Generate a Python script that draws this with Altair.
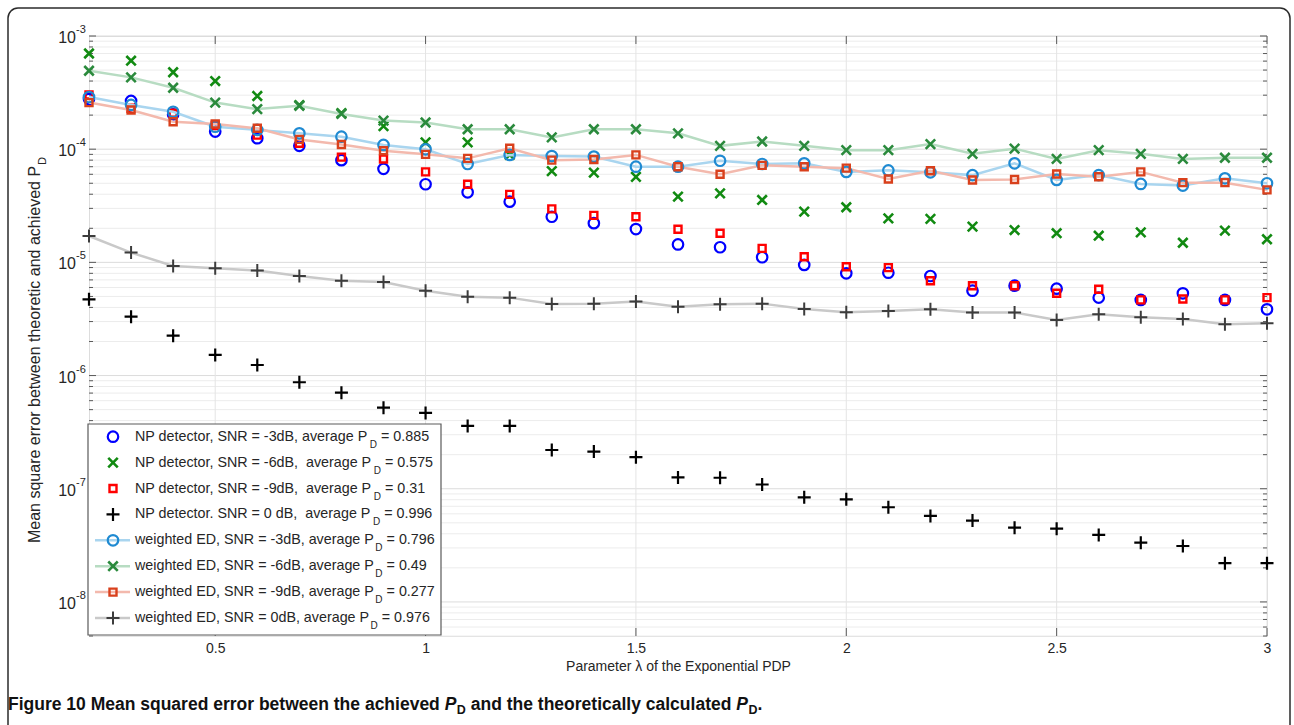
import altair as alt
import pandas as pd

# Parameter lambda of the exponential PDP
lam = [0.2, 0.3, 0.4, 0.5, 0.6, 0.7, 0.8, 0.9, 1.0, 1.1, 1.2, 1.3, 1.4, 1.5,
       1.6, 1.7, 1.8, 1.9, 2.0, 2.1, 2.2, 2.3, 2.4, 2.5, 2.6, 2.7, 2.8, 2.9, 3.0]

# NP detector results
np_m3 = [2.77e-4, 2.67e-4, 2.03e-4, 1.43e-4, 1.25e-4, 1.07e-4, 8.0e-5, 6.7e-5, 4.9e-5, 4.16e-5,
         3.44e-5, 2.53e-5, 2.22e-5, 1.97e-5, 1.44e-5, 1.36e-5, 1.11e-5, 9.5e-6, 8.0e-6, 8.1e-6,
         7.58e-6, 5.62e-6, 6.22e-6, 5.86e-6, 4.88e-6, 4.66e-6, 5.33e-6, 4.66e-6, 3.85e-6]
np_m6 = [7.0e-4, 6.05e-4, 4.78e-4, 4.0e-4, 2.95e-4, 2.45e-4, 2.08e-4, 1.60e-4, 1.15e-4, 1.15e-4,
         8.9e-5, 6.4e-5, 6.2e-5, 5.7e-5, 3.81e-5, 4.07e-5, 3.56e-5, 2.81e-5, 3.07e-5, 2.45e-5,
         2.42e-5, 2.07e-5, 1.93e-5, 1.81e-5, 1.72e-5, 1.84e-5, 1.49e-5, 1.91e-5, 1.60e-5]
np_m9 = [3.01e-4, 2.3e-4, 2.08e-4, 1.62e-4, 1.33e-4, 1.13e-4, 8.5e-5, 8.2e-5, 6.3e-5, 4.9e-5,
         3.99e-5, 2.97e-5, 2.6e-5, 2.53e-5, 1.96e-5, 1.81e-5, 1.33e-5, 1.12e-5, 9.16e-6, 8.98e-6,
         6.89e-6, 6.22e-6, 6.22e-6, 5.33e-6, 5.78e-6, 4.66e-6, 4.75e-6, 4.66e-6, 4.88e-6]
np_0 = [4.72e-6, 3.31e-6, 2.25e-6, 1.52e-6, 1.24e-6, 8.73e-7, 7.06e-7, 5.2e-7, 4.68e-7, 3.59e-7,
        3.59e-7, 2.2e-7, 2.13e-7, 1.9e-7, 1.26e-7, 1.25e-7, 1.09e-7, 8.4e-8, 8.07e-8, 6.86e-8,
        5.75e-8, 5.23e-8, 4.53e-8, 4.44e-8, 3.91e-8, 3.34e-8, 3.12e-8, 2.2e-8, 2.2e-8]

# weighted ED results
ed_m3 = [2.89e-4, 2.46e-4, 2.14e-4, 1.58e-4, 1.48e-4, 1.38e-4, 1.29e-4, 1.09e-4, 9.97e-5, 7.4e-5,
         8.9e-5, 8.7e-5, 8.6e-5, 7.0e-5, 7.0e-5, 7.9e-5, 7.4e-5, 7.5e-5, 6.3e-5, 6.5e-5,
         6.25e-5, 5.9e-5, 7.5e-5, 5.35e-5, 5.9e-5, 4.93e-5, 4.77e-5, 5.53e-5, 5.0e-5]
ed_m6 = [4.93e-4, 4.31e-4, 3.49e-4, 2.58e-4, 2.26e-4, 2.42e-4, 2.05e-4, 1.79e-4, 1.72e-4, 1.50e-4,
         1.50e-4, 1.27e-4, 1.50e-4, 1.50e-4, 1.38e-4, 1.07e-4, 1.17e-4, 1.07e-4, 9.8e-5, 9.8e-5,
         1.11e-4, 9.1e-5, 1.01e-4, 8.2e-5, 9.8e-5, 9.1e-5, 8.2e-5, 8.4e-5, 8.4e-5]
ed_m9 = [2.58e-4, 2.22e-4, 1.75e-4, 1.67e-4, 1.53e-4, 1.22e-4, 1.10e-4, 9.7e-5, 9.0e-5, 8.3e-5,
         1.02e-4, 8.0e-5, 8.1e-5, 8.9e-5, 7.0e-5, 6.0e-5, 7.2e-5, 7.0e-5, 6.8e-5, 5.45e-5,
         6.45e-5, 5.35e-5, 5.4e-5, 6.04e-5, 5.7e-5, 6.3e-5, 5.06e-5, 5.06e-5, 4.37e-5]
ed_0 = [1.71e-5, 1.22e-5, 9.3e-6, 8.87e-6, 8.46e-6, 7.58e-6, 6.89e-6, 6.71e-6, 5.62e-6, 4.98e-6,
        4.88e-6, 4.29e-6, 4.32e-6, 4.5e-6, 4.06e-6, 4.27e-6, 4.32e-6, 3.87e-6, 3.62e-6, 3.72e-6,
        3.85e-6, 3.6e-6, 3.6e-6, 3.1e-6, 3.48e-6, 3.27e-6, 3.16e-6, 2.84e-6, 2.9e-6]

series_keys = ["np_m3", "np_m6", "np_m9", "np_0", "ed_m3", "ed_m6", "ed_m9", "ed_0"]
series_vals = [np_m3, np_m6, np_m9, np_0, ed_m3, ed_m6, ed_m9, ed_0]
legend_text = [
    "NP detector, SNR = -3dB, average P",
    "NP detector, SNR = -6dB,  average P",
    "NP detector, SNR = -9dB,  average P",
    "NP detector. SNR = 0 dB,  average P",
    "weighted ED, SNR = -3dB, average P",
    "weighted ED, SNR = -6dB, average P",
    "weighted ED, SNR = -9dB, average P",
    "weighted ED, SNR = 0dB, average P",
]
avg_pd = ["0.885", "0.575", "0.31", "0.996", "0.796", "0.49", "0.277", "0.976"]

x_ticks = [0.5, 1.0, 1.5, 2.0, 2.5, 3.0]
decades = [1e-3, 1e-4, 1e-5, 1e-6, 1e-7, 1e-8]
decade_exp = ["-3", "-4", "-5", "-6", "-7", "-8"]

# ---- styling -------------------------------------------------------------
PLUS = "M-1,0L1,0M0,-1L0,1"
CROSS = "M-1,-1L1,1M-1,1L1,-1"
marker_color = ["#0000ff", "#118a11", "#ff0000", "#000000",
                "#1f8ad2", "#2a8a3c", "#d9401c", "#3c3c3c"]
marker_shape = ["circle", CROSS, "square", PLUS, "circle", CROSS, "square", PLUS]
marker_size = [110, 90, 49, 169, 110, 90, 49, 169]
marker_stroke = [2.2, 2.6, 2.4, 2.2, 2.2, 2.6, 2.4, 2.0]
ed_keys = series_keys[4:]
line_color = ["#a9d5ef", "#b7dcc2", "#f3b9ad", "#c9c9c9"]
FONT = "Liberation Sans, Arial, Helvetica, sans-serif"
TXT = "#262626"
NB = "\u00a0"

W, H = 1178, 600

rows = []
for k, vals in zip(series_keys, series_vals):
    for xv, yv in zip(lam, vals):
        rows.append({"lam": xv, "mse": yv, "series": k})
df = pd.DataFrame(rows)

xs = alt.Scale(domain=[0.2, 3.0], nice=False, zero=False)
ys = alt.Scale(type="log", domain=[5e-9, 1e-3], nice=False)
x_axis = alt.Axis(values=x_ticks, format="~g", grid=False, ticks=False, domain=False,
                  labelFont=FONT, labelFontSize=14, labelColor=TXT, labelPadding=5,
                  labelFlush=False, title="Parameter λ of the Exponential PDP",
                  titleFont=FONT, titleFontSize=14, titleFontWeight="normal",
                  titleColor=TXT, titlePadding=4)


def X(field):
    return alt.X(field, type="quantitative", scale=xs, axis=x_axis)


def Y(field):
    return alt.Y(field, type="quantitative", scale=ys, axis=None)


color_enc = alt.Color("series:N", scale=alt.Scale(domain=series_keys, range=marker_color), legend=None)
shape_enc = alt.Shape("series:N", scale=alt.Scale(domain=series_keys, range=marker_shape), legend=None)
size_enc = alt.Size("series:N", scale=alt.Scale(type="ordinal", domain=series_keys, range=marker_size),
                    legend=None)
sw_enc = alt.StrokeWidth("series:N", scale=alt.Scale(type="ordinal", domain=series_keys,
                                                     range=marker_stroke), legend=None)
stroke_enc = alt.Stroke("series:N", scale=alt.Scale(domain=ed_keys, range=line_color), legend=None)

# ---- grid and ticks -------------------------------------------------------
grid_vals, grid_major = [], []
for e in range(-9, -2):
    for m in range(1, 10):
        v = m * 10.0 ** e
        if 5e-9 * 0.999 <= v <= 1e-3 * 1.001:
            grid_vals.append(v)
            grid_major.append(m == 1)
grid_df = pd.DataFrame({"v": grid_vals, "major": grid_major})
xgrid_df = pd.DataFrame({"lam": x_ticks})

minor_grid = alt.Chart(grid_df).transform_filter("!datum.major").mark_rule(
    color="#ececec", strokeWidth=1).encode(y=Y("v"))
major_grid = alt.Chart(grid_df).transform_filter("datum.major").mark_rule(
    color="#dcdcdc", strokeWidth=1).encode(y=Y("v"))
vgrid = alt.Chart(xgrid_df).mark_rule(color="#e4e4e4", strokeWidth=1).encode(x=X("lam"))

tick_col = "#5a5a5a"
y_major_l = alt.Chart(grid_df).transform_filter("datum.major").mark_rule(color=tick_col).encode(
    y=Y("v"), x=alt.value(0), x2=alt.value(7))
y_major_r = alt.Chart(grid_df).transform_filter("datum.major").mark_rule(color=tick_col).encode(
    y=Y("v"), x=alt.value(W - 7), x2=alt.value(W))
y_minor_l = alt.Chart(grid_df).transform_filter("!datum.major").mark_rule(color=tick_col).encode(
    y=Y("v"), x=alt.value(0), x2=alt.value(4))
y_minor_r = alt.Chart(grid_df).transform_filter("!datum.major").mark_rule(color=tick_col).encode(
    y=Y("v"), x=alt.value(W - 4), x2=alt.value(W))
x_tick_b = alt.Chart(xgrid_df).mark_rule(color=tick_col).encode(
    x=X("lam"), y=alt.value(H), y2=alt.value(H - 8))
x_tick_t = alt.Chart(xgrid_df).mark_rule(color=tick_col).encode(
    x=X("lam"), y=alt.value(0), y2=alt.value(8))

# y tick labels drawn as 10 with a raised exponent
dec_df = pd.DataFrame({"v": decades, "e": decade_exp})
y_lab_base = alt.Chart(dec_df).mark_text(
    align="right", baseline="middle", font=FONT, fontSize=16, color=TXT, dy=2).encode(
    y=Y("v"), x=alt.value(-13), text=alt.value("10"))
y_lab_exp = alt.Chart(dec_df).mark_text(
    align="left", baseline="middle", font=FONT, fontSize=11, color=TXT, dy=-6).encode(
    y=Y("v"), x=alt.value(-13), text="e:N")

# ---- data marks -----------------------------------------------------------
np_points = alt.Chart(df).transform_filter("indexof(datum.series, 'np') == 0").mark_point(
    filled=False, opacity=1).encode(
    x=X("lam"), y=Y("mse"), color=color_enc, shape=shape_enc, size=size_enc, strokeWidth=sw_enc)
ed_lines = alt.Chart(df).transform_filter("indexof(datum.series, 'ed') == 0").mark_line(
    strokeWidth=2.5).encode(x=X("lam"), y=Y("mse"), stroke=stroke_enc)
ed_points = alt.Chart(df).transform_filter("indexof(datum.series, 'ed') == 0").mark_point(
    filled=False, opacity=1).encode(
    x=X("lam"), y=Y("mse"), color=color_enc, shape=shape_enc, size=size_enc, strokeWidth=sw_enc)

# ---- text measurement (Arial / Liberation Sans advance widths, 1/1000 em) --
ARIAL_W = {" ": 278, NB: 278, ",": 278, ".": 278, "-": 333, "=": 584, "N": 722, "P": 667,
           "S": 667, "R": 722, "B": 667, "E": 667, "D": 722, "M": 833, "a": 556, "b": 556,
           "c": 500, "d": 556, "e": 556, "g": 556, "h": 556, "i": 222, "n": 556, "o": 556,
           "q": 556, "r": 333, "s": 500, "t": 278, "u": 556, "v": 500, "w": 722}
ARIAL_BW = {" ": 278, ".": 278, "F": 611, "M": 833, "P": 667, "D": 722, "a": 556, "b": 611,
            "c": 556, "d": 611, "e": 556, "g": 611, "h": 611, "i": 278, "l": 278, "n": 611,
            "o": 611, "q": 611, "r": 389, "s": 556, "t": 333, "u": 611, "v": 556, "w": 778,
            "y": 556}


def text_width(s, size, table=ARIAL_W):
    return sum(table.get(ch, 556) for ch in s) * size / 1000.0


# ---- legend ---------------------------------------------------------------
LEG_FS = 14.3
LEG_SUB = 10
LEG_X = 46
sub_x = [LEG_X + text_width(t, LEG_FS) + 1.5 for t in legend_text]
leg_df = pd.DataFrame({
    "series": series_keys,
    "row": list(range(len(series_keys))),
    "label": [t.replace("  ", NB + " ") for t in legend_text],
    "tail": ["= " + a for a in avg_pd],
    "sub_x": sub_x,
    "tail_x": [s + text_width("D", LEG_SUB) + 4 for s in sub_x],
})
leg_base = alt.Chart(leg_df).transform_calculate(ly="400.7 + 25.9 * datum.row")
leg_y = alt.Y("ly:Q", scale=None)

leg_box = alt.Chart(pd.DataFrame({"a": [0]})).mark_rect(
    fill="white", stroke="#5a5a5a", strokeWidth=1.2).encode(
    x=alt.value(-1), x2=alt.value(352), y=alt.value(388), y2=alt.value(599))
leg_lines = leg_base.transform_filter("indexof(datum.series, 'ed') == 0").mark_rule(
    strokeWidth=2.5).encode(x=alt.value(6), x2=alt.value(41), y=leg_y, stroke=stroke_enc)
leg_syms = leg_base.mark_point(filled=False, opacity=1).encode(
    x=alt.value(24), y=leg_y, color=color_enc, shape=shape_enc, size=size_enc, strokeWidth=sw_enc)
leg_text = leg_base.mark_text(align="left", baseline="middle", font=FONT, fontSize=LEG_FS,
                              color=TXT).encode(x=alt.value(LEG_X), y=leg_y, text="label:N")
leg_sub = leg_base.mark_text(align="left", baseline="middle", font=FONT, fontSize=LEG_SUB,
                             color=TXT, dy=8).encode(
    x=alt.X("sub_x:Q", scale=None), y=leg_y, text=alt.value("D"))
leg_tail = leg_base.mark_text(align="left", baseline="middle", font=FONT, fontSize=LEG_FS,
                              color=TXT).encode(
    x=alt.X("tail_x:Q", scale=None), y=leg_y, text="tail:N")

# ---- y title --------------------------------------------------------------
one = pd.DataFrame({"a": [0]})
Y_TITLE = "Mean square error between theoretic and achieved P"
y_title = alt.Chart(one).mark_text(angle=270, align="left", baseline="middle", font=FONT,
                                   fontSize=16, color=TXT).encode(
    x=alt.value(-54), y=alt.value(507), text=alt.value(Y_TITLE))
y_title_sub = alt.Chart(one).mark_text(angle=270, align="left", baseline="middle", font=FONT,
                                       fontSize=11, color=TXT).encode(
    x=alt.value(-46), y=alt.value(507 - text_width(Y_TITLE, 16) - 1), text=alt.value("D"))

# ---- caption --------------------------------------------------------------
CAP_FS = 17.5
CAP_SUB = 12.5
CAP_Y = 674
CAP_X0 = -81
cap_a_txt = "Figure 10 Mean squared error between the achieved"
cap_b_txt = "and the theoretically calculated"
sp = text_width(" ", CAP_FS, ARIAL_BW)
p1_x = CAP_X0 + text_width(cap_a_txt, CAP_FS, ARIAL_BW) + sp
d1_x = p1_x + text_width("P", CAP_FS, ARIAL_BW) + 0.5
b_x = d1_x + text_width("D", CAP_SUB, ARIAL_BW) + sp
p2_x = b_x + text_width(cap_b_txt, CAP_FS, ARIAL_BW) + sp
d2_x = p2_x + text_width("P", CAP_FS, ARIAL_BW) + 0.5
dot_x = d2_x + text_width("D", CAP_SUB, ARIAL_BW)


def cap_text(txt, xpos, size=CAP_FS, style="normal", dy=0):
    return alt.Chart(one).mark_text(align="left", baseline="alphabetic", font=FONT, fontSize=size,
                                    fontWeight="bold", fontStyle=style, color="#111", dy=dy).encode(
        x=alt.value(xpos), y=alt.value(CAP_Y), text=alt.value(txt))


caption = [
    cap_text(cap_a_txt, CAP_X0),
    cap_text("P", p1_x, style="italic"),
    cap_text("D", d1_x, size=CAP_SUB, dy=4),
    cap_text(cap_b_txt, b_x),
    cap_text("P", p2_x, style="italic"),
    cap_text("D", d2_x, size=CAP_SUB, dy=4),
    cap_text(".", dot_x),
]

# rounded outer frame
frame = alt.Chart(one).mark_rect(filled=False, stroke="#2b2b2b", strokeWidth=1.5,
                                 cornerRadius=10).encode(
    x=alt.value(-81), x2=alt.value(1201), y=alt.value(-28), y2=alt.value(720))

chart = alt.layer(
    frame, minor_grid, major_grid, vgrid,
    y_minor_l, y_minor_r, y_major_l, y_major_r, x_tick_b, x_tick_t,
    y_lab_base, y_lab_exp,
    np_points, ed_lines, ed_points,
    leg_box, leg_lines, leg_syms, leg_text, leg_sub, leg_tail,
    y_title, y_title_sub,
    *caption,
).properties(
    width=W, height=H,
    autosize=alt.AutoSizeParams(type="none"),
    padding={"left": 89, "top": 36, "right": 27, "bottom": 89},
).configure_view(stroke="#555555", strokeWidth=1.3).configure(background="white")

chart.save("out.html", embed_options={"renderer": "svg", "actions": False})
